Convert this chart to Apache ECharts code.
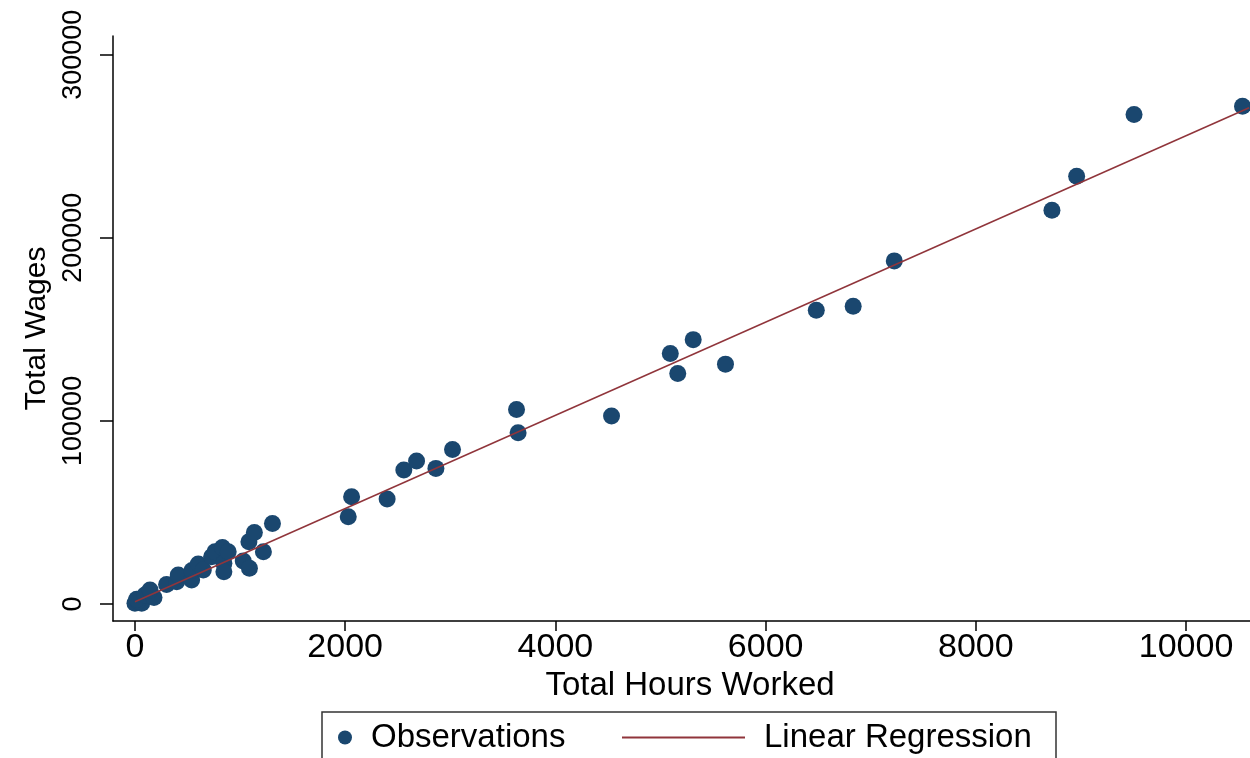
<!DOCTYPE html>
<html>
<head>
<meta charset="utf-8">
<script src="https://cdn.jsdelivr.net/npm/echarts@6/dist/echarts.min.js"></script>
<style>
  html, body { margin: 0; padding: 0; background: #fff; }
  #chart { width: 1250px; height: 758px; }
</style>
</head>
<body>
<div id="chart"></div>
<script>
// observations
const hoursWorked = [0, 64, 29, 16, 95, 181, 143, 301, 397, 412,
  539, 542, 602, 650, 729, 761, 832, 846, 846, 887,
  1030, 1084, 1089, 1136, 1222, 1308,
  2029, 2061, 2399, 2558, 2679, 2863, 3021,
  3630, 3645, 4534,
  5093, 5164, 5311, 5618,
  6482, 6833, 7224,
  8724, 8959, 9505, 10537];
const totalWages = [380, 380, 1640, 2570, 4900, 3550, 7640, 10640, 12170, 15830,
  13100, 18290, 21830, 18560, 25820, 28550, 30840, 22220, 17630, 28550,
  23470, 34010, 19490, 39030, 28550, 43940,
  47650, 58570, 57310, 73140, 78060, 74070, 84440,
  106280, 93500, 102620,
  136850, 125930, 144380, 131000,
  160480, 162660, 187390,
  215060, 233620, 267300, 271830];

// fitted line end points
const fitHours = [0, 10600];
const fitWages = [1200, 271000];

const xTicks = [0, 2000, 4000, 6000, 8000, 10000];
const yTicks = [0, 100000, 200000, 300000];

const NAVY = '#1a476f';
const MAROON = '#90353b';
const FONT = 'Liberation Sans';

const chart = echarts.init(document.getElementById('chart'));

const obs = hoursWorked.map((h, i) => [h, totalWages[i]]);
const fit = fitHours.map((h, i) => [h, fitWages[i]]);

chart.setOption({
  animation: false,
  backgroundColor: '#fff',
  textStyle: { fontFamily: FONT, color: '#000' },
  // plot area runs a little past the right edge, as in the original
  grid: { left: 113, top: 36, width: 1154, bottom: 137, outerBoundsMode: 'none', containLabel: false },
  xAxis: {
    type: 'value',
    min: -209,
    max: 10770,
    name: 'Total Hours Worked',
    nameLocation: 'middle',
    nameGap: 42,
    nameTextStyle: { fontSize: 33, fontFamily: FONT, color: '#000' },
    axisLine: { onZero: false, lineStyle: { color: '#000', width: 1.5 } },
    axisTick: { show: true, length: 10, customValues: xTicks, lineStyle: { color: '#000', width: 1.5 } },
    axisLabel: { customValues: xTicks, fontSize: 34, fontFamily: FONT, color: '#000', margin: 10, formatter: v => String(v) },
    splitLine: { show: false }
  },
  yAxis: {
    type: 'value',
    min: -9280,
    max: 310200,
    name: 'Total Wages',
    nameLocation: 'middle',
    nameGap: 58,
    nameTextStyle: { fontSize: 30, fontFamily: FONT, color: '#000' },
    axisLine: { show: true, onZero: false, lineStyle: { color: '#000', width: 1.5 } },
    axisTick: { show: true, length: 13, customValues: yTicks, lineStyle: { color: '#000', width: 1.5 } },
    axisLabel: { customValues: yTicks, rotate: 90, fontSize: 27, fontFamily: FONT, color: '#000', margin: 26, formatter: v => String(v) },
    splitLine: { show: false }
  },
  legend: [
    {
      data: ['Observations'],
      selectedMode: false,
      left: 338,
      top: 721,
      padding: 0,
      icon: 'circle',
      itemWidth: 14,
      itemHeight: 14,
      textStyle: { fontSize: 33, fontFamily: FONT, color: '#000', padding: [0, 0, 0, 14] }
    },
    {
      data: [{ name: 'Linear Regression', icon: 'rect' }],
      selectedMode: false,
      left: 622,
      top: 721,
      padding: 0,
      itemWidth: 123,
      itemHeight: 2,
      textStyle: { fontSize: 33, fontFamily: FONT, color: '#000', padding: [0, 0, 0, 14] }
    }
  ],
  graphic: [
    {
      type: 'rect',
      shape: { x: 322, y: 712, width: 734, height: 80 },
      style: { fill: 'none', stroke: '#333', lineWidth: 1.5 },
      silent: true
    }
  ],
  series: [
    {
      name: 'Observations',
      type: 'scatter',
      data: obs,
      symbol: 'circle',
      symbolSize: 17,
      itemStyle: { color: NAVY, opacity: 1 },
      z: 2
    },
    {
      name: 'Linear Regression',
      type: 'line',
      data: fit,
      symbol: 'none',
      lineStyle: { color: MAROON, width: 1.5 },
      itemStyle: { color: MAROON },
      z: 3
    }
  ]
});
</script>
</body>
</html>
